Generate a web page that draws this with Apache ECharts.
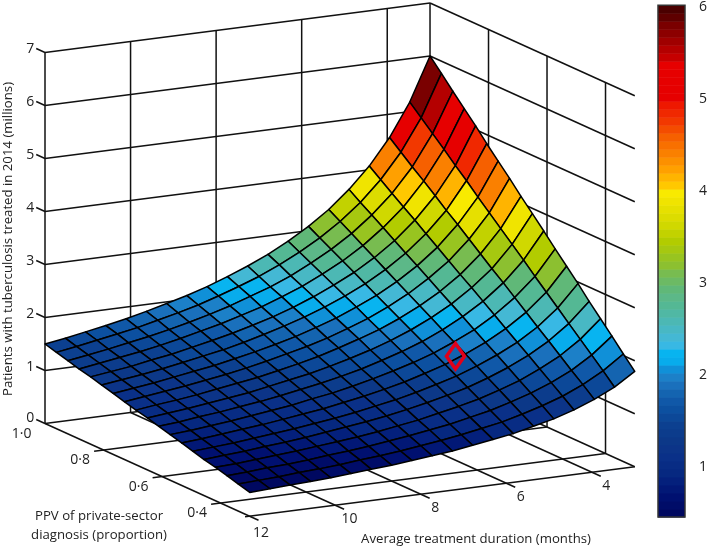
<!DOCTYPE html>
<html>
<head>
<meta charset="utf-8">
<title>Patients treated surface</title>
<style>
  html, body { margin: 0; padding: 0; background: #fff; }
  #chart { width: 710px; height: 548px; }
</style>
<script src="https://cdn.jsdelivr.net/npm/echarts@6/dist/echarts.min.js"></script>
</head>
<body>
<div id="chart"></div>
<script>
// surface grid
const durationGrid = [3.000, 3.474, 3.947, 4.421, 4.895, 5.368, 5.842, 6.316, 6.789, 7.263, 7.737, 8.211, 8.684, 9.158, 9.632, 10.105, 10.579, 11.053, 11.526, 12.000]
const ppvGrid = [0.300, 0.339, 0.378, 0.417, 0.456, 0.494, 0.533, 0.572, 0.611, 0.650, 0.689, 0.728, 0.767, 0.806, 0.844, 0.883, 0.922, 0.961, 1.000]
// one row per ppvGrid entry, one column per durationGrid entry
const patients = [
  [1.80, 1.55, 1.37, 1.22, 1.10, 1.01, 0.92, 0.86, 0.80, 0.74, 0.70, 0.66, 0.62, 0.59, 0.56, 0.53, 0.51, 0.49, 0.47, 0.45],
  [2.03, 1.76, 1.55, 1.38, 1.25, 1.14, 1.04, 0.97, 0.90, 0.84, 0.79, 0.74, 0.70, 0.67, 0.63, 0.60, 0.58, 0.55, 0.53, 0.51],
  [2.27, 1.96, 1.72, 1.54, 1.39, 1.27, 1.16, 1.08, 1.00, 0.94, 0.88, 0.83, 0.78, 0.74, 0.71, 0.67, 0.64, 0.62, 0.59, 0.57],
  [2.50, 2.16, 1.90, 1.70, 1.53, 1.40, 1.28, 1.19, 1.11, 1.03, 0.97, 0.91, 0.86, 0.82, 0.78, 0.74, 0.71, 0.68, 0.65, 0.63],
  [2.73, 2.36, 2.08, 1.86, 1.68, 1.53, 1.40, 1.30, 1.21, 1.13, 1.06, 1.00, 0.95, 0.90, 0.85, 0.81, 0.78, 0.74, 0.71, 0.68],
  [2.97, 2.56, 2.25, 2.01, 1.82, 1.66, 1.52, 1.41, 1.31, 1.22, 1.15, 1.08, 1.02, 0.97, 0.92, 0.88, 0.84, 0.80, 0.77, 0.74],
  [3.20, 2.76, 2.43, 2.17, 1.96, 1.79, 1.64, 1.52, 1.41, 1.32, 1.24, 1.17, 1.10, 1.05, 1.00, 0.95, 0.91, 0.87, 0.83, 0.80],
  [3.43, 2.96, 2.61, 2.33, 2.10, 1.92, 1.76, 1.63, 1.52, 1.42, 1.33, 1.25, 1.19, 1.12, 1.07, 1.02, 0.97, 0.93, 0.89, 0.86],
  [3.67, 3.17, 2.79, 2.49, 2.25, 2.05, 1.88, 1.74, 1.62, 1.51, 1.42, 1.34, 1.27, 1.20, 1.14, 1.09, 1.04, 1.00, 0.95, 0.92],
  [3.90, 3.37, 2.96, 2.65, 2.39, 2.18, 2.00, 1.85, 1.72, 1.61, 1.51, 1.42, 1.35, 1.28, 1.21, 1.16, 1.11, 1.06, 1.02, 0.98],
  [4.13, 3.57, 3.14, 2.80, 2.53, 2.31, 2.12, 1.96, 1.83, 1.71, 1.60, 1.51, 1.43, 1.35, 1.29, 1.23, 1.17, 1.12, 1.08, 1.03],
  [4.37, 3.77, 3.32, 2.96, 2.68, 2.44, 2.24, 2.07, 1.93, 1.80, 1.69, 1.60, 1.51, 1.43, 1.36, 1.30, 1.24, 1.19, 1.14, 1.09],
  [4.60, 3.97, 3.50, 3.12, 2.82, 2.57, 2.36, 2.19, 2.03, 1.90, 1.78, 1.68, 1.59, 1.51, 1.43, 1.37, 1.31, 1.25, 1.20, 1.15],
  [4.83, 4.18, 3.67, 3.28, 2.96, 2.70, 2.48, 2.30, 2.14, 2.00, 1.88, 1.77, 1.67, 1.58, 1.51, 1.44, 1.37, 1.31, 1.26, 1.21],
  [5.07, 4.37, 3.85, 3.44, 3.10, 2.83, 2.60, 2.41, 2.24, 2.09, 1.96, 1.85, 1.75, 1.66, 1.58, 1.50, 1.44, 1.37, 1.32, 1.27],
  [5.30, 4.58, 4.03, 3.59, 3.25, 2.96, 2.72, 2.52, 2.34, 2.19, 2.05, 1.94, 1.83, 1.74, 1.65, 1.57, 1.50, 1.44, 1.38, 1.32],
  [5.53, 4.78, 4.20, 3.75, 3.39, 3.09, 2.84, 2.63, 2.44, 2.28, 2.15, 2.02, 1.91, 1.81, 1.72, 1.64, 1.57, 1.50, 1.44, 1.38],
  [5.77, 4.98, 4.38, 3.91, 3.53, 3.22, 2.96, 2.74, 2.55, 2.38, 2.24, 2.11, 1.99, 1.89, 1.80, 1.71, 1.64, 1.57, 1.50, 1.44],
  [6.00, 5.18, 4.56, 4.07, 3.68, 3.35, 3.08, 2.85, 2.65, 2.48, 2.33, 2.19, 2.07, 1.97, 1.87, 1.78, 1.70, 1.63, 1.56, 1.50]
]
const zTicks = [0, 1, 2, 3, 4, 5, 6, 7]
const durationTicks = [4, 6, 8, 10, 12]
const ppvTicks = [1.0, 0.8, 0.6, 0.4]
const ppvTickLabels = ['1·0', '0·8', '0·6', '0·4']
const colorbarTicks = [1, 2, 3, 4, 5, 6]
// the red diamond
const markerDuration = [5.55]
const markerPpv = [0.54]
const markerPatients = [1.75]

const zTitle = 'Patients with tuberculosis treated in 2014 (millions)'
const ppvTitle = ['PPV of private-sector', 'diagnosis (proportion)']
const durationTitle = 'Average treatment duration (months)'

// 64 bands of the colour bar, lowest value first
const palette = [
  '#000860', '#000c68', '#001070', '#021876', '#04207c', '#062880', '#082c84', '#0a3088',
  '#0c3488', '#0c3888', '#0c3c8c', '#0c4090', '#0c4898', '#0c50a0', '#1058a8', '#1464b0',
  '#1a70bc', '#1c80c8', '#1090d8', '#08acec', '#08b4f0', '#38b8e4', '#44b8d4', '#48b8c4',
  '#4cb8b4', '#50b8a4', '#54b894', '#5cb888', '#60b878', '#6cba64', '#78bc50', '#8cc030',
  '#98c420', '#a6c810', '#b2cc00', '#c2d200', '#d0d800', '#dcdc00', '#e6e000', '#f0e400',
  '#f8ea00', '#ffc800', '#ffb400', '#ffa000', '#fc9000', '#fa8000', '#f87000', '#f66000',
  '#f44c00', '#f23800', '#f02800', '#ee1800', '#e60000', '#e60000', '#e60000', '#e60000',
  '#e60000', '#c60000', '#b40000', '#a00000', '#8c0000', '#7a0000', '#5e0000', '#4a0000'
]
const colorMin = 0.46
const colorMax = 6.02

const titleFont = '13.2px "Open Sans", sans-serif'
const tickFont = '14px "Open Sans", sans-serif'
const textColor = '#222'
const lineColor = '#111'

// oblique view of the box: months, proportion, millions -> plot position
function project(d, p, z) {
  return [
    45 + 42.78 * (12 - d) + 292.5 * (1 - p),
    423.5 - 5.5 * (12 - d) + 132.5 * (1 - p) - 53 * z
  ]
}

function colorOf(v) {
  let k = Math.floor((v - colorMin) / (colorMax - colorMin) * palette.length)
  return palette[Math.max(0, Math.min(palette.length - 1, k))]
}

// box lines
let segments = []
zTicks.forEach(z => {
  segments.push([[12, 1.03, z], [12, 1, z]])
  segments.push([[12, 1, z], [3, 1, z]])
  segments.push([[3, 1, z], [3, 0.3, z]])
})
durationTicks.forEach(d => {
  segments.push([[d, 1, 0], [d, 1, 7]])
  segments.push([[d, 1, 0], [d, 0.27, 0]])
})
segments.push([[3, 1, 0], [3, 1, 7]])
ppvTicks.slice(1).forEach(p => {
  segments.push([[3, p, 0], [3, p, 7]])
  segments.push([[12.22, p, 0], [3, p, 0]])
})
segments.push([[12.11, 0.3, 0], [3, 0.3, 0]])

// surface cells, back to front
let cells = []
for (let i = ppvGrid.length - 2; i >= 0; i--) {
  for (let j = 0; j < durationGrid.length - 1; j++) {
    cells.push([j, i, patients[i][j]])
  }
}

// text placed on the box
let labels = []
zTicks.forEach(z => {
  let pos = project(12, 1.03, z)
  labels.push({ text: String(z), font: tickFont, x: pos[0] - 6, y: pos[1] - (z === 0 ? 2 : 0) })
})
ppvTicks.forEach((p, n) => {
  let pos = project(12.22, p, 0)
  labels.push({ text: ppvTickLabels[n], font: tickFont, x: pos[0] - 14, y: pos[1] + 9 })
})
durationTicks.forEach(d => {
  let pos = project(d, 0.27, 0)
  labels.push({ text: String(d), font: tickFont, x: pos[0] + (d === 12 ? 2.5 : 5.5), y: pos[1] + (d === 12 ? 12.5 : 10) })
})
labels.push({ text: ppvTitle[0], font: titleFont, x: 99, y: 516 })
labels.push({ text: ppvTitle[1], font: titleFont, x: 99, y: 535 })
labels.push({ text: durationTitle, font: titleFont, x: 476, y: 539 })
labels.push({ text: zTitle, font: titleFont, x: 8, y: 239, rotation: Math.PI / 2 })

let bands = palette.map((c, k) => [k])
let bandStep = (colorMax - colorMin) / palette.length

let chart = echarts.init(document.getElementById('chart'))
let option = {
  animation: false,
  backgroundColor: '#fff',
  grid: [
    { left: 0, top: 0, width: 710, height: 548 },
    { left: 658, top: 3, width: 30, height: 514 }
  ],
  xAxis: [
    { type: 'value', gridIndex: 0, min: 0, max: 710, show: false },
    { type: 'value', gridIndex: 1, min: 0, max: 1, show: false }
  ],
  yAxis: [
    { type: 'value', gridIndex: 0, min: 0, max: 548, inverse: true, show: false },
    {
      type: 'value',
      gridIndex: 1,
      min: colorMin,
      max: colorMax,
      position: 'right',
      splitLine: { show: false },
      axisLine: { show: false },
      axisTick: { show: true, length: 9, customValues: colorbarTicks, lineStyle: { color: lineColor, width: 1.4 } },
      axisLabel: { show: true, margin: 14, customValues: colorbarTicks, color: textColor, fontFamily: '"Open Sans", sans-serif', fontSize: 14 }
    }
  ],
  series: [
    {
      // walls and floor
      type: 'custom',
      xAxisIndex: 0,
      yAxisIndex: 0,
      silent: true,
      z: 1,
      data: segments.map((s, n) => [n]),
      renderItem: (params, api) => {
        let s = segments[params.dataIndex]
        let a = api.coord(project(s[0][0], s[0][1], s[0][2]))
        let b = api.coord(project(s[1][0], s[1][1], s[1][2]))
        return {
          type: 'line',
          shape: { x1: a[0], y1: a[1], x2: b[0], y2: b[1] },
          style: { stroke: lineColor, lineWidth: 1.5, fill: null }
        }
      }
    },
    {
      // surface
      type: 'custom',
      xAxisIndex: 0,
      yAxisIndex: 0,
      silent: true,
      z: 2,
      data: cells,
      renderItem: (params, api) => {
        let j = api.value(0)
        let i = api.value(1)
        let corners = [[i, j], [i, j + 1], [i + 1, j + 1], [i + 1, j]]
        let points = corners.map(c => api.coord(project(durationGrid[c[1]], ppvGrid[c[0]], patients[c[0]][c[1]])))
        return {
          type: 'polygon',
          shape: { points: points },
          style: { fill: colorOf(api.value(2)), stroke: '#000', lineWidth: 1.5, lineJoin: 'round' }
        }
      }
    },
    {
      // red diamond
      type: 'custom',
      xAxisIndex: 0,
      yAxisIndex: 0,
      silent: true,
      z: 3,
      data: markerPatients.map((v, n) => [markerDuration[n], markerPpv[n], v]),
      renderItem: (params, api) => {
        let c = api.coord(project(api.value(0), api.value(1), api.value(2)))
        return {
          type: 'polygon',
          shape: { points: [[c[0], c[1] - 12.8], [c[0] + 9, c[1]], [c[0], c[1] + 12.8], [c[0] - 9, c[1]]] },
          style: { fill: null, stroke: '#e2001a', lineWidth: 3.5, lineJoin: 'miter' }
        }
      }
    },
    {
      // tick labels and axis titles
      type: 'custom',
      xAxisIndex: 0,
      yAxisIndex: 0,
      silent: true,
      z: 4,
      data: labels.map((l, n) => [n]),
      renderItem: (params, api) => {
        let l = labels[params.dataIndex]
        let c = api.coord([l.x, l.y])
        return {
          type: 'text',
          x: c[0],
          y: c[1],
          rotation: l.rotation || 0,
          style: { text: l.text, font: l.font, fill: textColor, textAlign: 'center', textVerticalAlign: 'middle' }
        }
      }
    },
    {
      // colour bar bands
      type: 'custom',
      xAxisIndex: 1,
      yAxisIndex: 1,
      silent: true,
      z: 2,
      data: bands,
      renderItem: (params, api) => {
        let k = api.value(0)
        let a = api.coord([0, colorMin + (k + 1) * bandStep])
        let b = api.coord([1, colorMin + k * bandStep])
        return {
          type: 'rect',
          shape: { x: a[0], y: a[1], width: b[0] - a[0], height: b[1] - a[1] + 0.5 },
          style: { fill: palette[k] }
        }
      }
    },
    {
      // colour bar frame
      type: 'custom',
      xAxisIndex: 1,
      yAxisIndex: 1,
      silent: true,
      z: 3,
      data: [[0]],
      renderItem: (params, api) => {
        let a = api.coord([0, colorMax])
        let b = api.coord([1, colorMin])
        return {
          type: 'rect',
          shape: { x: a[0], y: a[1], width: b[0] - a[0], height: b[1] - a[1] },
          style: { fill: null, stroke: '#333', lineWidth: 1.5 }
        }
      }
    }
  ]
}
option && chart.setOption(option)
</script>
</body>
</html>
